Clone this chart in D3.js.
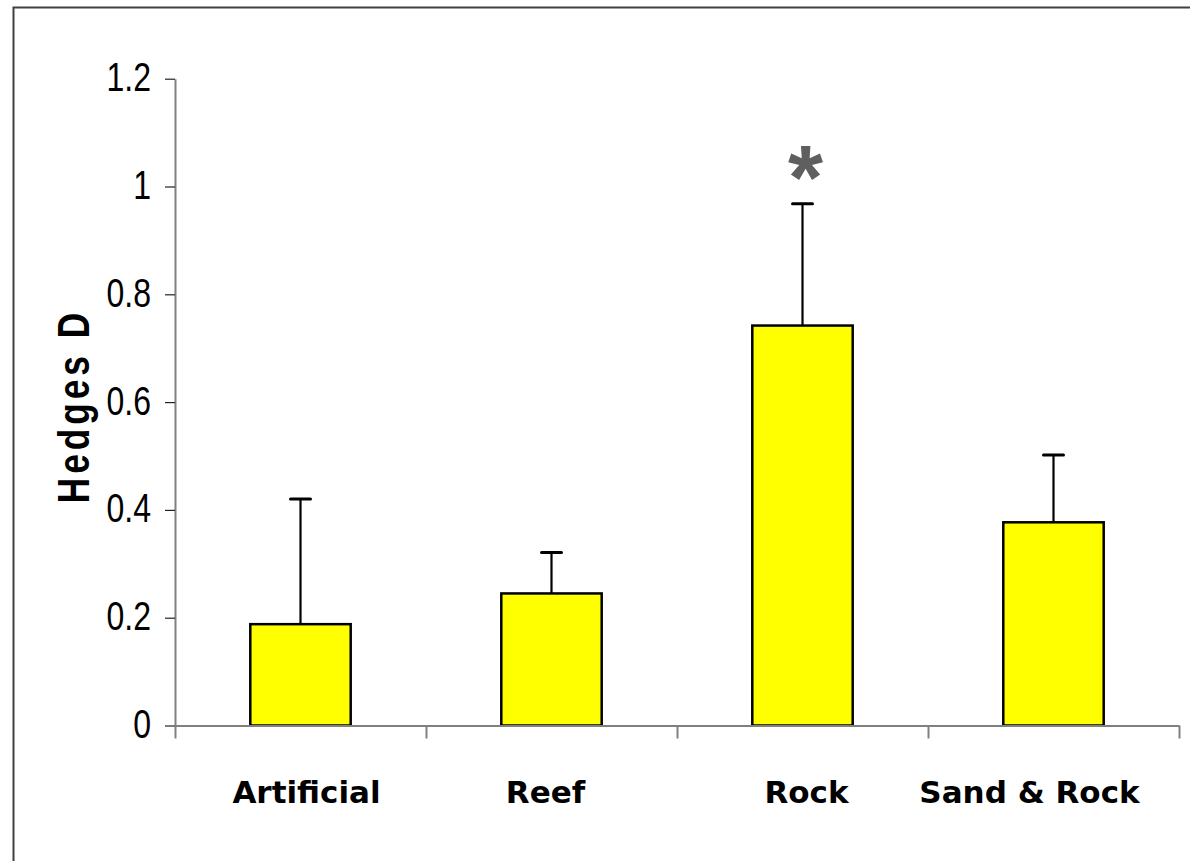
<!DOCTYPE html>
<html>
<head>
<meta charset="utf-8">
<script src="https://cdn.jsdelivr.net/npm/d3@7/dist/d3.min.js"></script>
<style>
  html, body { margin: 0; padding: 0; background: #ffffff; }
  svg { display: block; }
</style>
</head>
<body>
<svg id="chart" width="1190" height="861"></svg>
<script>
// Effect sizes (Hedges D) by habitat type, with upper standard-error whiskers
const categories = ["Artificial", "Reef", "Rock", "Sand & Rock"];
const hedgesD = [0.188, 0.245, 0.742, 0.377];
const errorUpper = [0.232, 0.076, 0.226, 0.125];
const significance = ["", "", "*", ""];
const yTickValues = [0, 0.2, 0.4, 0.6, 0.8, 1.0, 1.2];
const yTickLabels = ["0", "0.2", "0.4", "0.6", "0.8", "1", "1.2"];
const yTitle = "Hedges D";

// layout
const plot = { left: 175, right: 1179, top: 78.7, bottom: 725.5 };
const labelShift = [6, -6, 4, -24];

const svg = d3.select("#chart");

// outer frame
svg.append("rect")
  .attr("x", 13.5).attr("y", 7.5)
  .attr("width", 1220).attr("height", 900)
  .attr("fill", "none")
  .attr("stroke", "#404040")
  .attr("stroke-width", 2);

const x = d3.scaleBand()
  .domain(categories)
  .range([plot.left, plot.right])
  .paddingInner(0).paddingOuter(0);

const y = d3.scaleLinear()
  .domain([0, 1.2])
  .range([plot.bottom, plot.top]);

const barW = x.bandwidth() * 0.4;

// bars
svg.append("g").selectAll("rect")
  .data(categories)
  .join("rect")
  .attr("x", (d) => x(d) + (x.bandwidth() - barW) / 2)
  .attr("y", (d, i) => y(hedgesD[i]))
  .attr("width", barW)
  .attr("height", (d, i) => y(0) - y(hedgesD[i]))
  .attr("fill", "#ffff00")
  .attr("stroke", "#000000")
  .attr("stroke-width", 2.5);

// upper error whiskers
const err = svg.append("g").attr("stroke", "#000000");
categories.forEach((c, i) => {
  const cx = x(c) + x.bandwidth() / 2;
  const yTop = y(hedgesD[i] + errorUpper[i]);
  err.append("line")
    .attr("x1", cx).attr("x2", cx)
    .attr("y1", y(hedgesD[i])).attr("y2", yTop)
    .attr("stroke-width", 2.2);
  err.append("line")
    .attr("x1", cx - 10).attr("x2", cx + 10)
    .attr("y1", yTop).attr("y2", yTop)
    .attr("stroke-width", 3)
    .attr("stroke-linecap", "round");
});

// significance marks
svg.append("g").selectAll("text")
  .data(categories)
  .join("text")
  .attr("x", (d) => x(d) + x.bandwidth() / 2 + 3)
  .attr("y", (d, i) => y(hedgesD[i] + errorUpper[i]) + 5)
  .attr("text-anchor", "middle")
  .attr("font-family", "Liberation Sans, Arial, sans-serif")
  .attr("font-weight", "bold")
  .attr("font-size", 90)
  .attr("fill", "#5f5f5f")
  .text((d, i) => significance[i]);

// y axis
const yAxis = d3.axisLeft(y)
  .tickValues(yTickValues)
  .tickFormat((d, i) => yTickLabels[i])
  .tickSize(10)
  .tickSizeOuter(0);

const gy = svg.append("g")
  .attr("transform", `translate(${plot.left},0)`)
  .call(yAxis);
gy.select(".domain").attr("stroke", "#808080").attr("stroke-width", 2);
gy.selectAll(".tick line").attr("stroke", "#222222").attr("stroke-width", 1.2);
gy.selectAll(".tick text")
  .attr("x", -24 / 0.8)
  .attr("dy", null)
  .attr("y", 12)
  .attr("transform", "scale(0.8,1)")
  .attr("text-anchor", "end")
  .attr("font-family", "Liberation Sans, Arial, sans-serif")
  .attr("font-size", 40)
  .attr("fill", "#000000");

// x axis baseline and category boundary ticks
const xEdges = d3.scaleLinear().domain([0, categories.length]).range([plot.left, plot.right]);
const xAxis = d3.axisBottom(xEdges)
  .tickValues(d3.range(categories.length + 1))
  .tickFormat("")
  .tickSize(13)
  .tickSizeOuter(0);
const gx = svg.append("g")
  .attr("transform", `translate(0,${plot.bottom})`)
  .call(xAxis);
gx.select(".domain").attr("stroke", "#808080").attr("stroke-width", 2);
gx.selectAll(".tick line").attr("stroke", "#808080").attr("stroke-width", 2);

// category labels
svg.append("g").selectAll("text")
  .data(categories)
  .join("text")
  .attr("x", (d, i) => x(d) + x.bandwidth() / 2 + labelShift[i])
  .attr("y", 803)
  .attr("text-anchor", "middle")
  .attr("font-family", "DejaVu Sans, Verdana, sans-serif")
  .attr("font-weight", "bold")
  .attr("font-size", 31)
  .attr("fill", "#000000")
  .text((d) => d);

// y axis title
svg.append("text")
  .attr("transform", `translate(89,${(plot.top + plot.bottom) / 2 + 4}) rotate(-90) scale(0.8,1)`)
  .attr("text-anchor", "middle")
  .attr("font-family", "Liberation Sans, Arial, sans-serif")
  .attr("font-weight", "bold")
  .attr("font-size", 44)
  .attr("letter-spacing", 5)
  .attr("fill", "#000000")
  .text(yTitle);
</script>
</body>
</html>
